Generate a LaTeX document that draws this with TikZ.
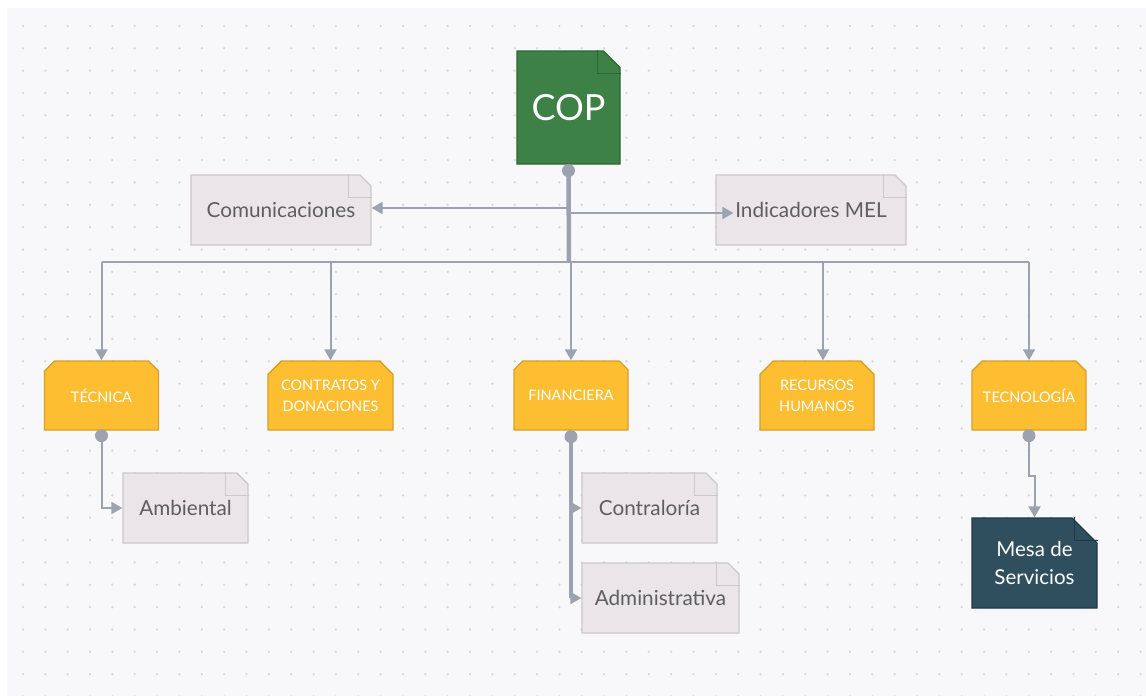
\documentclass[tikz,border=0pt]{standalone}
\usepackage{fontspec}
\setmainfont{Lato}
\usetikzlibrary{shapes.misc,arrows.meta}
\definecolor{panel}{HTML}{F8F8FA}
\definecolor{griddot}{HTML}{D6D6DC}
\definecolor{conn}{HTML}{9CA2AF}
\definecolor{copfill}{HTML}{3E8146}
\definecolor{copline}{HTML}{2C6633}
\definecolor{notefill}{HTML}{E9E5E9}
\definecolor{noteline}{HTML}{CCC8CD}
\definecolor{notetext}{HTML}{5E5E60}
\definecolor{deptfill}{HTML}{FEBE32}
\definecolor{deptline}{HTML}{D6A02A}
\definecolor{deskfill}{HTML}{2F4F5E}
\definecolor{deskline}{HTML}{1D3846}
\tikzset{
  docbox/.style={chamfered rectangle, chamfered rectangle corners=north east,
    chamfered rectangle angle=45, chamfered rectangle xsep=23pt,
    inner sep=0pt, line width=1.3pt, align=center},
  cophead/.style={docbox, fill=copfill, draw=copline, text=white,
    minimum width=103pt, minimum height=113pt, font=\fontsize{36}{40}\selectfont},
  note/.style={docbox, fill=notefill, draw=noteline, text=notetext,
    minimum height=70pt, font=\fontsize{20.7}{24}\selectfont},
  desk/.style={docbox, fill=deskfill, draw=deskline, text=white,
    minimum width=125pt, minimum height=90pt, font=\fontsize{20.5}{28}\selectfont},
  dept/.style={chamfered rectangle, chamfered rectangle corners={north west,north east},
    chamfered rectangle angle=45, chamfered rectangle xsep=10pt,
    inner sep=0pt, fill=deptfill, draw=deptline, line width=1.3pt, text=white,
    minimum width=114pt, minimum height=69pt, align=center,
    font=\fontsize{14.5}{21}\selectfont},
  link/.style={draw=conn, line width=2pt, -{Triangle[length=11pt,width=12pt]}},
  bar/.style={draw=conn, line width=2.6pt},
  trunk/.style={draw=conn, line width=4.5pt},
  knob/.style={fill=conn},
  fold/.style={line width=1.3pt}
}
% folded page corner of a document box
\newcommand\pagefold[2]{%
  \draw[fold,#2] ([xshift=-23pt]#1.north -| #1.east) -- ([xshift=-23pt,yshift=-23pt]#1.north -| #1.east)
    -- ([yshift=-23pt]#1.north -| #1.east);}
\begin{document}
\begin{tikzpicture}[x=1pt,y=-1pt]
\useasboundingbox (0,0) rectangle (1146,696);
\fill[white] (0,0) rectangle (1146,696);
\fill[panel] (7,8) rectangle (1146,696);
\foreach \i in {0,...,50}{
  \foreach \j in {0,...,30}{
    \fill[griddot] (23+22.35*\i,26+22.35*\j) circle (1.3pt);
  }
}

% top level
\node[cophead] (cop) at (568.5,107.5) {COP};
\pagefold{cop}{copline}

\node[note, minimum width=180pt] (com) at (281,210) {Comunicaciones};
\pagefold{com}{noteline}
\node[note, minimum width=190pt] (mel) at (811,210) {Indicadores MEL};
\pagefold{mel}{noteline}

% departments
\node[dept] (tec) at (101.5,395.5) {TÉCNICA};
\node[dept, minimum width=125pt] (con) at (330.5,395.5) {CONTRATOS Y\\DONACIONES};
\node[dept] (fin) at (571,395.5) {FINANCIERA};
\node[dept] (rh) at (817,395.5) {RECURSOS\\HUMANOS};
\node[dept] (tic) at (1029,395.5) {TECNOLOGÍA};

% sub-units
\node[note, minimum width=125pt] (amb) at (185.5,508) {Ambiental};
\pagefold{amb}{noteline}
\node[note, minimum width=135pt] (ctr) at (649.5,508) {Contraloría};
\pagefold{ctr}{noteline}
\node[note, minimum width=157pt] (adm) at (660.5,598) {Administrativa};
\pagefold{adm}{noteline}
\node[desk] (mesa) at (1034.5,563) {Mesa de\\Servicios};
\pagefold{mesa}{deskline}

% trunk from COP to the department bus
\coordinate (copknob) at ([yshift=-6pt]cop.south);
\coordinate (jcom) at (569,208);
\coordinate (jmel) at (569,213);
\coordinate (jbus) at (569,262);
\draw[link] (jcom) -- ([yshift=2pt]com.east);
\draw[link] (jmel) -- ([xshift=18pt,yshift=-3pt]mel.west);
\draw[bar] (tec.north |- jbus) -- (tic.north |- jbus);
\draw[trunk] (copknob) -- (jbus);
\fill[knob] (copknob) circle (6.5pt);

% drops to the departments
\draw[link] (tec.north |- jbus) -- (tec.north);
\draw[link] (con.north |- jbus) -- (con.north);
\draw[link] (fin.north |- jbus) -- (fin.north);
\draw[link] ([xshift=6pt]rh.north |- jbus) -- ([xshift=6pt]rh.north);
\draw[link] (tic.north |- jbus) -- (tic.north);

% TÉCNICA -> Ambiental
\coordinate (tecknob) at ([yshift=-5pt]tec.south);
\draw[link] (tecknob) |- (amb.west);
\fill[knob] (tecknob) circle (6.5pt);

% FINANCIERA -> Contraloría, Administrativa
\coordinate (finknob) at ([yshift=-6pt]fin.south);
\draw[link] (finknob |- ctr.west) -- (ctr.west);
\draw[link] (finknob |- adm.west) -- (adm.west);
\draw[trunk] (finknob) -- (finknob |- adm.west);
\fill[knob] (finknob) circle (6.5pt);

% TECNOLOGÍA -> Mesa de Servicios
\coordinate (ticknob) at ([yshift=-5pt]tic.south);
\draw[link] (ticknob) -- ++(0,40) -| (mesa.north);
\fill[knob] (ticknob) circle (6.5pt);
\end{tikzpicture}
\end{document}
